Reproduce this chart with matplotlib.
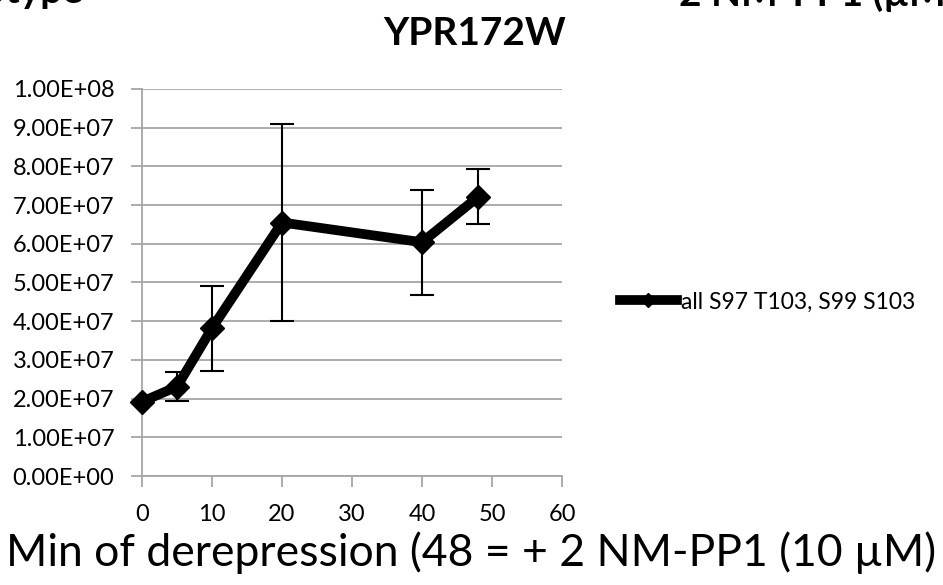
import numpy as np
import matplotlib
matplotlib.use("Agg")
import matplotlib.pyplot as plt

# ---------data---------
minutes = [0, 5, 10, 20, 40, 48]
signal = [1.92e7, 2.31e7, 3.82e7, 6.55e7, 6.04e7, 7.21e7]
err = [0.0, 0.37e7, 1.1e7, 2.55e7, 1.36e7, 0.71e7]
series_name = "all S97 T103, S99 S103"
yticks = np.arange(0, 1.01e8, 1e7)
xticks = [0, 10, 20, 30, 40, 50, 60]

plt.rcParams['font.family'] = ['Lato', 'DejaVu Sans']

fig = plt.figure(figsize=(9.43, 5.85), dpi=100)
ax = fig.add_axes([0.1506, 0.1863, 0.4454, 0.6616])

ax.errorbar(minutes, signal, yerr=err, fmt='none', ecolor='black',
            elinewidth=1.5, capsize=8.5, capthick=1.5, zorder=2)
ax.plot(minutes, signal, color='black', lw=7, marker='D', ms=12,
        solid_joinstyle='round', label=series_name, zorder=3, clip_on=False)

ax.set_xlim(0, 60)
ax.set_ylim(0, 1e8)
ax.set_xticks(xticks)
ax.set_yticks(yticks)
ax.set_yticklabels(["%.2E" % v for v in yticks])
ax.grid(axis='y', color='#a6a6a6', lw=1.3)
ax.set_axisbelow(True)
for s in ['top', 'right']:
    ax.spines[s].set_visible(False)
for s in ['left', 'bottom']:
    ax.spines[s].set_color('#a6a6a6')
    ax.spines[s].set_linewidth(1.3)
ax.tick_params(axis='y', length=8, width=1.3, color='#a6a6a6', labelsize=17, pad=12)
ax.tick_params(axis='x', length=8, width=1.3, color='#a6a6a6', labelsize=17, pad=12)

# x label is centred on the figure, not on the axes
fig.text(0.5, 0.055, "Min of derepression (48 = + 2 NM-PP1 (10 \u00b5M)",
         ha='center', va='center', fontsize=32)
fig.text(0.503, 0.943, "YPR172W", ha='center', va='center', fontsize=28, fontweight='bold')

# pieces of neighbouring titles cut off at the top edge
fig.text(0.089, 0.995, "Genotype", ha='right', va='baseline', fontsize=28, fontweight='bold')
fig.text(0.72, 0.99, "2 NM-PP1 (\u00b5M)", ha='left', va='baseline', fontsize=28, fontweight='bold')

fig.legend(loc='center left', bbox_to_anchor=(0.657, 0.484), frameon=False,
           fontsize=16.5, handlelength=2.5, handletextpad=0.2, markerscale=0.6,
           borderpad=0, borderaxespad=0)

fig.savefig("out.png", dpi=100)
